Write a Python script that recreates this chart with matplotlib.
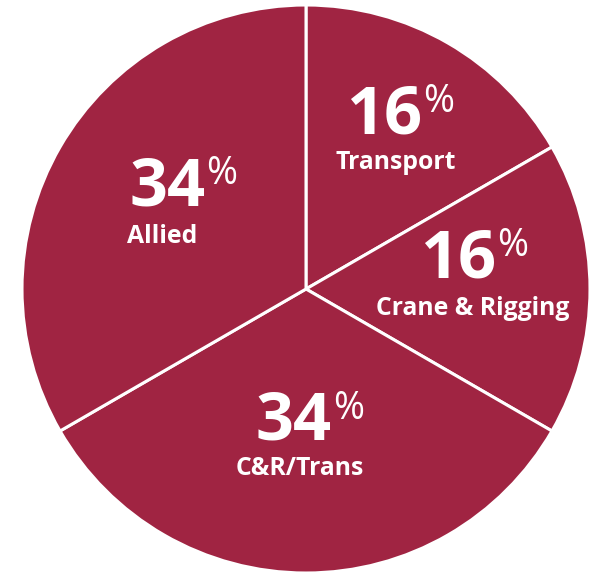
import matplotlib
matplotlib.use('Agg')
import matplotlib.pyplot as plt

# slice data, clockwise from 12 o'clock
categories = ['Transport', 'Crane & Rigging', 'C&R/Trans', 'Allied']
pct_labels = ['16', '16', '34', '34']
shares = [60, 60, 120, 120]  # wedge sizes as drawn (degrees)

# text anchors in pixel coords: (digits right edge, digit baseline, label x, label baseline, label align)
text_pos = [
	(422, 133, 396, 169, 'center'),
	(496, 277, 473, 315, 'center'),
	(332, 440, 300, 475, 'center'),
	(205, 205, 127, 243, 'left'),
]

W, H = 597, 574
maroon = '#A02442'

def main():
	fig = plt.figure(figsize=(W / 100, H / 100), dpi=100)
	ax = fig.add_axes([0, 0, 1, 1])

	ax.pie(shares, startangle=90, counterclock=False, colors=[maroon] * len(shares),
		center=(306, H - 289), radius=284, frame=True,
		wedgeprops=dict(edgecolor='white', linewidth=2.2))
	ax.set_xlim(0, W)
	ax.set_ylim(0, H)
	ax.set_aspect('equal')
	ax.axis('off')

	for num, cat, (nx, ny, lx, ly, ha) in zip(pct_labels, categories, text_pos):
		ax.text(nx, H - ny, num, ha='right', va='baseline', color='white',
			fontsize=48, fontweight='bold', family='Open Sans')
		ax.text(nx + 1, H - ny + 21, '%', ha='left', va='baseline', color='white',
			fontsize=27, fontweight='medium', family='Open Sans')
		ax.text(lx, H - ly, cat, ha=ha, va='baseline', color='white',
			fontsize=17.8, fontweight='bold', family='Open Sans')

	fig.savefig('out.png', dpi=100, facecolor='white')

if __name__ == '__main__':
	main()
